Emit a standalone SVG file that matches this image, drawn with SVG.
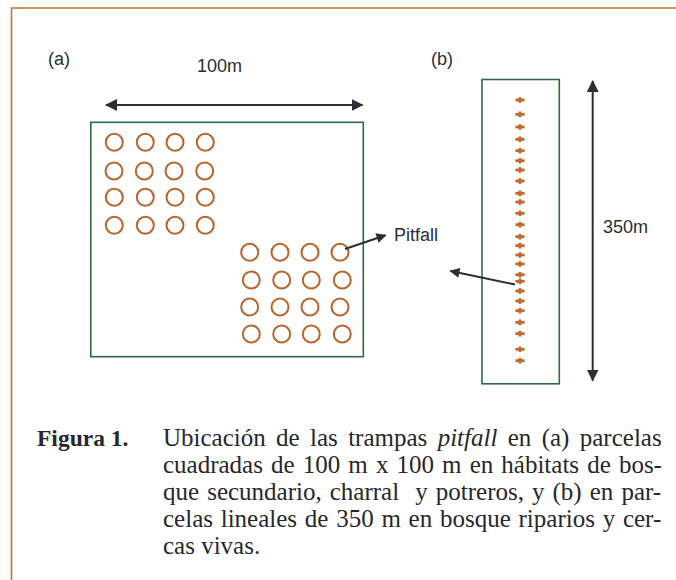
<svg xmlns="http://www.w3.org/2000/svg" width="676" height="580" viewBox="0 0 676 580">
<style>
.frame{stroke:#c8742c;stroke-width:1.6;fill:none}
.plot{fill:none;stroke:#2f6b42;stroke-width:1.6}
.trap{fill:none;stroke:#b8652c;stroke-width:2}
.dim{stroke:#2b2e35;stroke-width:2;fill:none}
.lbl{font-family:"Liberation Sans",Arial,sans-serif;font-size:18px;fill:#2b2e35}
.cap{font-family:"Liberation Serif","Times New Roman",serif;font-size:25px;fill:#26282d}
.capb{font-weight:bold;font-size:23.5px}
</style>
<defs>
<marker id="ah" viewBox="0 0 12 12" refX="11" refY="6" markerWidth="12" markerHeight="12" markerUnits="userSpaceOnUse" orient="auto-start-reverse">
<path d="M0,0 L12,6 L0,12 Z" fill="#2b2e35"/>
</marker>
<marker id="ahs" viewBox="0 0 10 10" refX="9" refY="5" markerWidth="11" markerHeight="10" markerUnits="userSpaceOnUse" orient="auto">
<path d="M0,0 L10,5 L0,10 Z" fill="#2b2e35"/>
</marker>
<g id="plus" fill="#c0692a">
<rect x="-4.6" y="-1.4" width="9.2" height="2.8"/>
<rect x="-1.4" y="-2.8" width="2.8" height="5.6"/>
</g>
</defs>

<g id="frame">
<path class="frame" d="M676,8 H11.5 V580"/>
</g>

<g id="panel-a">
<text class="lbl" x="48" y="65">(a)</text>
<text class="lbl" x="197" y="72">100m</text>
<rect id="plot-a" class="plot" x="90.8" y="122.3" width="272.5" height="234.4"/>
<g id="traps-a">
<circle class="trap" cx="114.3" cy="142.3" r="8.5"/>
<circle class="trap" cx="145.3" cy="142.3" r="8.5"/>
<circle class="trap" cx="175" cy="142.3" r="8.5"/>
<circle class="trap" cx="205.3" cy="142.3" r="8.5"/>
<circle class="trap" cx="114" cy="171" r="8.5"/>
<circle class="trap" cx="144.3" cy="171" r="8.5"/>
<circle class="trap" cx="174" cy="171" r="8.5"/>
<circle class="trap" cx="204.7" cy="171" r="8.5"/>
<circle class="trap" cx="114.3" cy="197.3" r="8.5"/>
<circle class="trap" cx="145.3" cy="197.3" r="8.5"/>
<circle class="trap" cx="175" cy="197.3" r="8.5"/>
<circle class="trap" cx="205.3" cy="197.3" r="8.5"/>
<circle class="trap" cx="114.3" cy="225.3" r="8.5"/>
<circle class="trap" cx="145.3" cy="225.3" r="8.5"/>
<circle class="trap" cx="175" cy="225.3" r="8.5"/>
<circle class="trap" cx="205.3" cy="225.3" r="8.5"/>
<circle class="trap" cx="249.7" cy="252.3" r="8.5"/>
<circle class="trap" cx="280" cy="252.3" r="8.5"/>
<circle class="trap" cx="310" cy="252.3" r="8.5"/>
<circle class="trap" cx="340" cy="252.3" r="8.5"/>
<circle class="trap" cx="251.3" cy="280" r="8.5"/>
<circle class="trap" cx="281.7" cy="280" r="8.5"/>
<circle class="trap" cx="311.3" cy="280" r="8.5"/>
<circle class="trap" cx="342.3" cy="280" r="8.5"/>
<circle class="trap" cx="249.7" cy="307" r="8.5"/>
<circle class="trap" cx="280" cy="307" r="8.5"/>
<circle class="trap" cx="310" cy="307" r="8.5"/>
<circle class="trap" cx="340" cy="307" r="8.5"/>
<circle class="trap" cx="251.3" cy="334" r="8.5"/>
<circle class="trap" cx="281.7" cy="334" r="8.5"/>
<circle class="trap" cx="311.3" cy="334" r="8.5"/>
<circle class="trap" cx="342.3" cy="334" r="8.5"/>
</g>
</g>

<g id="label-pitfall">
<text class="lbl" x="394" y="241">Pitfall</text>
</g>

<g id="panel-b">
<text class="lbl" x="431" y="65">(b)</text>
<text class="lbl" x="603" y="233">350m</text>
<rect id="plot-b" class="plot" x="482" y="79.5" width="77.3" height="304.3"/>
<g id="traps-b">
<use href="#plus" x="520" y="100"/>
<use href="#plus" x="520" y="114.3"/>
<use href="#plus" x="520" y="127"/>
<use href="#plus" x="520" y="139.3"/>
<use href="#plus" x="520" y="150.7"/>
<use href="#plus" x="520" y="160.7"/>
<use href="#plus" x="520" y="170"/>
<use href="#plus" x="520" y="181"/>
<use href="#plus" x="520" y="193.3"/>
<use href="#plus" x="520" y="202"/>
<use href="#plus" x="520" y="213.3"/>
<use href="#plus" x="520" y="224.7"/>
<use href="#plus" x="520" y="236.7"/>
<use href="#plus" x="520" y="245.7"/>
<use href="#plus" x="520" y="255"/>
<use href="#plus" x="520" y="264"/>
<use href="#plus" x="520" y="274.7"/>
<use href="#plus" x="520" y="281.3"/>
<use href="#plus" x="520" y="291"/>
<use href="#plus" x="520" y="301"/>
<use href="#plus" x="520" y="310.7"/>
<use href="#plus" x="520" y="322.3"/>
<use href="#plus" x="520" y="333.7"/>
<use href="#plus" x="520" y="349.3"/>
<use href="#plus" x="520" y="360.7"/>
</g>
</g>

<g id="connectors">
<line class="dim" x1="106" y1="105" x2="362.5" y2="105" marker-start="url(#ah)" marker-end="url(#ah)"/>
<line class="dim" x1="592.7" y1="81" x2="592.7" y2="380.5" marker-start="url(#ah)" marker-end="url(#ah)"/>
<line class="dim" x1="345" y1="249" x2="385.5" y2="235.2" marker-end="url(#ahs)"/>
<line class="dim" x1="515" y1="284.5" x2="450.5" y2="271" marker-end="url(#ahs)"/>
</g>

<g id="caption">
<text class="cap capb" x="37" y="446">Figura 1.</text>
<text class="cap" x="163" y="446" style="word-spacing:4.1px">Ubicación de las trampas <tspan font-style="italic">pitfall</tspan> en (a) parcelas</text>
<text class="cap" x="163" y="473" style="word-spacing:1.85px">cuadradas de 100 m x 100 m en hábitats de bos-</text>
<text class="cap" x="163" y="500" style="word-spacing:1.8px">que secundario, charral&#160; y potreros, y (b) en par-</text>
<text class="cap" x="163" y="527" style="word-spacing:1.5px">celas lineales de 350 m en bosque riparios y cer-</text>
<text class="cap" x="163" y="554">cas vivas.</text>
</g>
</svg>
